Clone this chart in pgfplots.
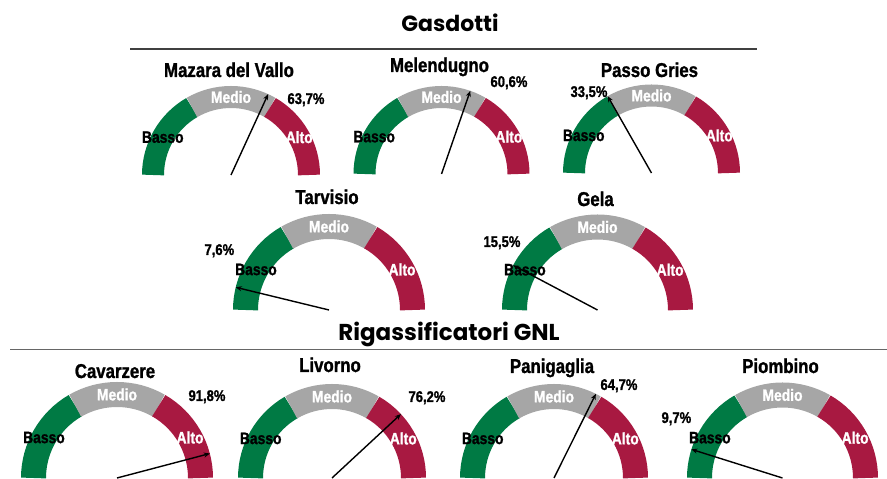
\documentclass[border=0pt]{standalone}
\usepackage{pgfplots}
\pgfplotsset{compat=1.18}
\usetikzlibrary{arrows.meta}
\usepackage{fontspec}
\setmainfont{Liberation Sans}
\newfontfamily\narrow{Liberation Sans}[FakeStretch=0.84, FakeBold=1.2]
\newfontfamily\headfont{Poppins}

\definecolor{gBasso}{RGB}{0,122,68}
\definecolor{gMedio}{RGB}{166,166,166}
\definecolor{gAlto}{RGB}{168,25,65}
\definecolor{rule}{RGB}{64,64,64}

\newcommand{\lblfont}{\narrow\bfseries\fontsize{16.5}{18}\selectfont}
\newcommand{\valfont}{\narrow\bfseries\fontsize{15.5}{17}\selectfont}
\newcommand{\ttlfont}{\narrow\bfseries\fontsize{20}{22}\selectfont}

% #1 cx, #2 cy (px from top), #3 outer radius, #4 band width,
% #5 value (%), #6 #7 value label (left, baseline), #8 title, #9 title baseline
\newcommand{\gauge}[9]{%
  \pgfmathsetmacro\rm{#3-#4/2}%
  \begin{axis}[
    at={({#1*1pt},{(479-#2)*1pt})}, anchor=south,
    x=#3pt, y=#3pt, xmin=-1, xmax=1, ymin=0, ymax=1,
    scale only axis, hide axis, clip=false,
  ]
    \draw[gBasso, line width=#4pt] (axis cs:0,0) ++(180:\rm pt) arc[start angle=180, end angle=120, radius=\rm pt];
    \draw[gMedio, line width=#4pt] (axis cs:0,0) ++(120:\rm pt) arc[start angle=120, end angle=60, radius=\rm pt];
    \draw[gAlto, line width=#4pt] (axis cs:0,0) ++(60:\rm pt) arc[start angle=60, end angle=0, radius=\rm pt];
    \path (axis cs:0,0) ++(151:\rm pt) node[font=\lblfont, text=black] {Basso};
    \path (axis cs:0,0) ++(90:\rm pt) node[font=\lblfont, text=white] {Medio};
    \path (axis cs:0,0) ++(29:\rm pt) node[font=\lblfont, text=white] {Alto};
    \addplot[black, line width=1.4pt, -{Stealth[length=6pt, width=5pt]}]
      table[row sep=\\,
        x expr={\thisrow{r}*cos(180-1.8*\thisrow{v})},
        y expr={\thisrow{r}*sin(180-1.8*\thisrow{v})}]
      {v r\\ #5 0\\ #5 1\\};
  \end{axis}
  \node[anchor=base west, font=\valfont] at ({#6*1pt},{(479-#7)*1pt})
    {\pgfmathprintnumber[fixed, precision=1, fixed zerofill, use comma, assume math mode=true]{#5}\%};
  \node[anchor=base, font=\ttlfont] at ({(#1-2)*1pt},{(479-#9)*1pt}) {#8};
}

\begin{document}
\begin{tikzpicture}
\useasboundingbox (0,0) rectangle (887pt,479pt);
\clip (0,0) rectangle (887pt,479pt);

% Gasdotti
\node[anchor=base, font=\headfont\bfseries\fontsize{22}{24}\selectfont] at (450pt,{(479-32)*1pt}) {Gasdotti};
\draw[rule, line width=1.8pt] (130pt,{(479-49)*1pt}) -- (757pt,{(479-49)*1pt});

\gauge{231}{175}{89}{22}{63.7}{284}{104}{Mazara del Vallo}{77}
\gauge{441.5}{174}{88}{22}{60.6}{487}{87}{Melendugno}{72}
\gauge{651.5}{173}{88.5}{22}{33.5}{567}{97}{Passo Gries}{77}
\gauge{329}{310}{96}{25}{7.6}{201}{255}{Tarvisio}{204}
\gauge{597.5}{310}{95.5}{25}{15.5}{480}{247}{Gela}{206}

% Rigassificatori GNL
\node[anchor=base, font=\headfont\bfseries\fontsize{23}{26}\selectfont] at (449pt,{(479-341)*1pt}) {Rigassificatori GNL};
\draw[black!60, line width=1pt] (10pt,{(479-350)*1pt}) -- (887pt,{(479-350)*1pt});

\gauge{117}{478}{96}{25}{91.8}{185}{401}{Cavarzere}{378}
\gauge{332}{478}{94}{25}{76.2}{405}{402}{Livorno}{372}
\gauge{554}{478}{94}{25}{64.7}{597}{390}{Panigaglia}{373}
\gauge{782.5}{478}{95.5}{25}{9.7}{658}{423}{Piombino}{373}
\end{tikzpicture}
\end{document}
